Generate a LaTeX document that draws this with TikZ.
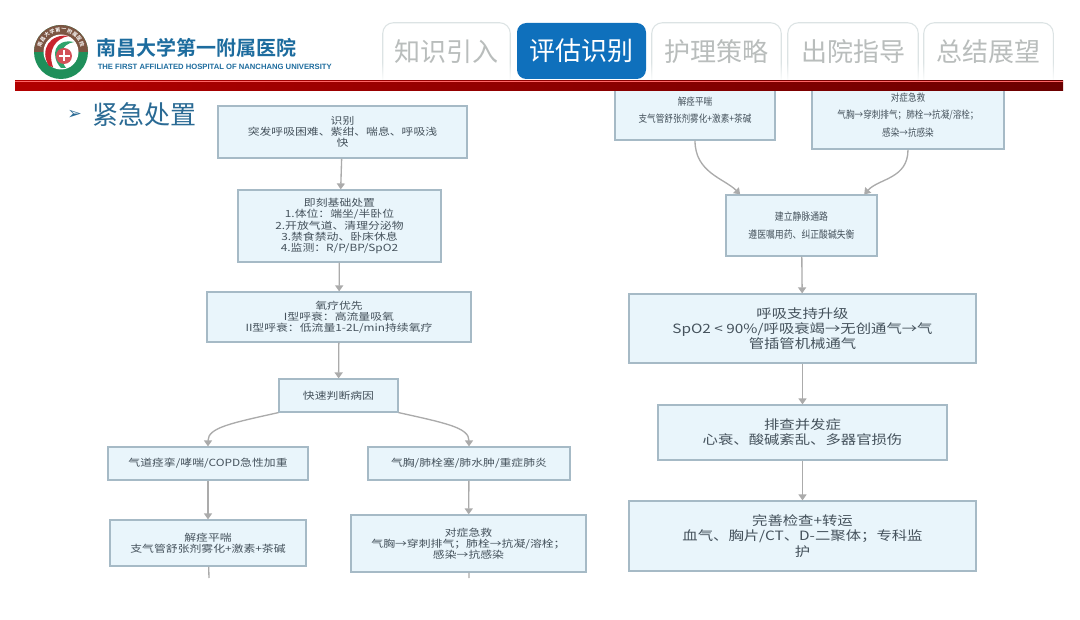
\documentclass[tikz,border=0pt]{standalone}
\usepackage{fontspec}
\usetikzlibrary{arrows.meta,fadings}
\setmainfont{Noto Sans CJK SC}
\newfontfamily\cn{Noto Sans CJK SC}
\newfontfamily\cnw{Noto Sans CJK SC}[FakeStretch=1.2]
\newfontfamily\cnn{Noto Sans CJK SC}[FakeStretch=0.85]
\newfontfamily\cnb{Noto Sans CJK SC Bold}
\newfontfamily\enb{Liberation Sans Bold}
\newfontfamily\sym{DejaVu Sans}
\newcommand\fpx[2]{\fontsize{#1}{#2}\selectfont}
\definecolor{boxfill}{HTML}{E9F5FB}
\definecolor{boxline}{HTML}{A6BAC6}
\definecolor{boxtext}{HTML}{45525C}
\definecolor{arrowc}{HTML}{ABABAB}
\definecolor{tabline}{HTML}{DCE3E4}
\definecolor{tabtext}{HTML}{B9BDBC}
\definecolor{tabblue}{HTML}{0F70BC}
\definecolor{hospblue}{HTML}{1D6C9E}
\definecolor{titleblue}{HTML}{2A6A94}
\definecolor{ringgreen}{HTML}{1F8F5A}
\definecolor{swirlred}{HTML}{C8252E}
\definecolor{swirlgreen}{HTML}{2FA36B}
\tikzset{
  x=.75pt,y=-.75pt,
  flowbox/.style n args={2}{draw=boxline,line width=.9pt,fill=boxfill,text=boxtext,align=center,inner sep=0pt,
    minimum width=#1*.75pt,minimum height=#2*.75pt},
  small/.style={font=\cnw\fpx{7.4pt}{8.4pt}},
  big/.style={font=\cnw\fpx{9.6pt}{11.4pt}},
  narrow/.style={font=\cnn\fpx{7.6pt}{13pt}},
  flow/.style={draw=arrowc,line width=1pt,-{Triangle[width=6pt,length=4.5pt]}},
  flowend/.style={draw=arrowc,line width=1pt},
  tabnode/.style={inner sep=0pt,minimum width=#1*.75pt,minimum height=57*.75pt,text=tabtext,font=\cn\fpx{19.5pt}{22pt}},
}
\begin{document}
\begin{tikzpicture}
\useasboundingbox (0,0) rectangle (1080,620);
\fill[white] (0,0) rectangle (1080,620);

% left column
\node[flowbox={249}{52},small] (a1) at (342.5,132) {识别\\突发呼吸困难、紫绀、喘息、呼吸浅\\快};
\node[flowbox={203}{72},small] (a2) at (339.5,226) {即刻基础处置\\1.体位：端坐/半卧位\\2.开放气道、清理分泌物\\3.禁食禁动、卧床休息\\4.监测：R/P/BP/SpO2};
\node[flowbox={264}{50},small] (a3) at (339,317) {氧疗优先\\I型呼衰：高流量吸氧\\II型呼衰：低流量1-2L/min持续氧疗};
\node[flowbox={119}{33},small] (a4) at (338.5,395.5) {快速判断病因};
\node[flowbox={200}{33},small] (b1) at (208,463.5) {气道痉挛/哮喘/COPD急性加重};
\node[flowbox={202}{33},small] (c1) at (469,463.5) {气胸/肺栓塞/肺水肿/重症肺炎};
\node[flowbox={196}{46},small] (b2) at (208,543) {解痉平喘\\支气管舒张剂雾化+激素+茶碱};
\node[flowbox={235}{57},small] (c2) at (468.5,543.5) {对症急救\\气胸→穿刺排气；肺栓→抗凝/溶栓；\\感染→抗感染};
\coordinate (b3) at (209,578);
\coordinate (c3) at (469,578);

% right column
\node[flowbox={160}{60},narrow] (d1) at (695,110) {解痉平喘\\支气管舒张剂雾化+激素+茶碱};
\node[flowbox={192}{68},narrow] (d2) at (908,115) {对症急救\\气胸→穿刺排气；肺栓→抗凝/溶栓；\\感染→抗感染};
\node[flowbox={151}{61},font=\cnn\fpx{7.8pt}{13.5pt}] (e1) at (801.5,225.5) {建立静脉通路\\遵医嘱用药、纠正酸碱失衡};
\node[flowbox={347}{69},big] (e2) at (802.5,328.5) {呼吸支持升级\\SpO2 < 90\%/呼吸衰竭→无创通气→气\\管插管机械通气};
\node[flowbox={289}{55},big] (e3) at (802.5,432.5) {排查并发症\\心衰、酸碱紊乱、多器官损伤};
\node[flowbox={347}{70},big] (e4) at (802.5,536) {完善检查+转运\\血气、胸片/CT、D-二聚体；专科监\\护};

% connectors
\draw[flow] (a1) -- (a2);
\draw[flow] (a2) -- (a3);
\draw[flow] (a3) -- (a4);
\draw[flow] (a4.south west) .. controls ([xshift=-36pt,yshift=-8pt]a4.south west) and ([yshift=14pt]b1.north) .. (b1.north);
\draw[flow] (a4.south east) .. controls ([xshift=36pt,yshift=-8pt]a4.south east) and ([yshift=14pt]c1.north) .. (c1.north);
\draw[flow] (b1) -- (b2);
\draw[flow] (c1) -- (c2);
\draw[flowend] (b2) -- (b3);
\draw[flowend] (c2) -- (c3);
\draw[flow] (d1.south) .. controls ([yshift=-24pt]d1.south) and ([xshift=-58pt,yshift=12pt]e1.north) .. ([xshift=-46pt]e1.north);
\draw[flow] (d2.south) .. controls ([yshift=-22pt]d2.south) and ([xshift=58pt,yshift=12pt]e1.north) .. ([xshift=47pt]e1.north);
\draw[flow] (e1) -- (e2);
\draw[flow] (e2) -- (e3);
\draw[flow] (e3) -- (e4);

% white band above the red bar hides tops of right boxes
\fill[white] (600,0) rectangle (1070,81);

% tabs
\node[tabnode=127] (t1) at (446.5,51.5) {知识引入};
\node[tabnode=129] (t3) at (716.5,51.5) {护理策略};
\node[tabnode=130] (t4) at (853,51.5) {出院指导};
\node[tabnode=129] (t5) at (988.5,51.5) {总结展望};
\foreach \n in {t1,t3,t4,t5}
  \draw[tabline,line width=.8pt,rounded corners=8pt] (\n.south west) -- (\n.north west) -- (\n.north east) -- (\n.south east);
\fill[white,path fading=north] (378,62) rectangle (1058,81);
\node[fill=tabblue,rounded corners=7pt,inner sep=0pt,minimum width=129*.75pt,minimum height=56*.75pt,text=white,font=\cn\fpx{19.5pt}{22pt}] (t2) at (581.5,51) {评估识别};

% red bar
\shade[left color=red!70!black,middle color=red!68!black,right color=red!42!black] (15,81) rectangle (1063,91);
\draw[red!60!white,line width=.5pt] (15,81) -- (1063,81);

% logo
\fill[ringgreen] (61,52) circle (27);
\begin{scope}
\clip (34,25) rectangle (88,52);
\fill[swirlred!55!ringgreen] (61,52) circle (27);
\end{scope}
\fill[white] (61,52) circle (17.5);
\fill[swirlred] (49,66) .. controls (39,50) and (50,33) .. (69,36) .. controls (56,38) and (47,50) .. (53,67) -- cycle;
\fill[swirlgreen] (61,68) .. controls (50,56) and (54,38) .. (74,42) .. controls (62,44) and (57,55) .. (66,68) -- cycle;
\fill[swirlred!80!white] (64,56) circle (8);
\fill[white] (62.6,50.5) rectangle (65.4,61.5);
\fill[white] (58.5,54.6) rectangle (69.5,57.4);
\foreach \i/\c [count=\k] in {a/南,b/昌,c/大,d/学,e/第,f/一,g/附,h/属,i/医,j/院}{
  \pgfmathsetmacro\ang{160-(\k-1)*15.5}
  \pgfmathsetmacro\px{61+22.3*cos(\ang)}
  \pgfmathsetmacro\py{52-22.3*sin(\ang)}
  \node[text=white,inner sep=0pt,rotate=\ang-90,font=\cnb\fpx{3.8pt}{4pt}] (ring\i) at (\px,\py) {\c};
}

% hospital name
\node[anchor=west,text=hospblue,inner sep=0pt,font=\cnb\fpx{15pt}{17pt}] (hosp) at (96,47.5) {南昌大学第一附属医院};
\node[anchor=west,text=hospblue,inner sep=0pt,font=\enb\fpx{5.75pt}{7pt}] (hospen) at (97.5,66.5) {THE FIRST AFFILIATED HOSPITAL OF NANCHANG UNIVERSITY};

% heading
\node[anchor=west,text=titleblue,inner sep=0pt,font=\sym\fpx{13pt}{15pt}] (bul) at (67,115) {➢};
\node[anchor=west,text=titleblue,inner sep=0pt,font=\cn\fpx{19.5pt}{22pt}] (head) at (92,115) {紧急处置};
\end{tikzpicture}
\end{document}
